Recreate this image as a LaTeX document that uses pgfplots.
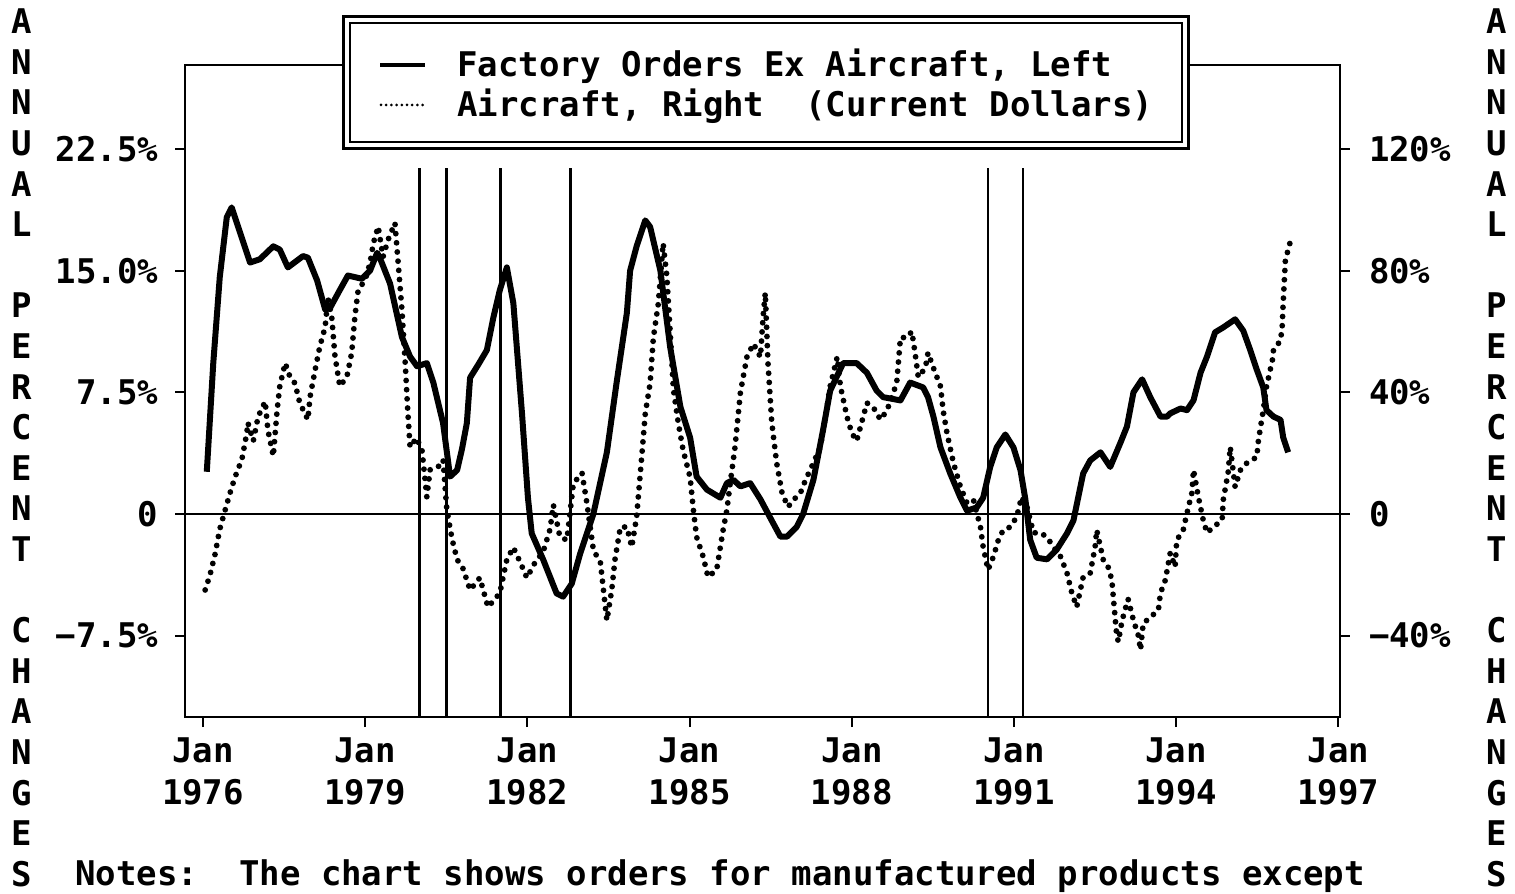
\documentclass[border=0pt]{standalone}
\usepackage{pgfplots}
\pgfplotsset{compat=1.18}
\usepackage{fontspec}
\setmainfont{DejaVu Sans Mono}
\newcommand\cf{\fontsize{17}{21}\selectfont\bfseries}

\pgfplotstableread{
x y
1976.07 2.6
1976.19 9.3
1976.31 14.6
1976.44 18.3
1976.53 18.9
1976.87 15.5
1977.05 15.7
1977.30 16.5
1977.42 16.3
1977.57 15.2
1977.85 15.9
1977.94 15.8
1978.11 14.4
1978.26 12.6
1978.35 12.7
1978.53 13.8
1978.68 14.7
1978.94 14.5
1979.09 15.0
1979.22 16.1
1979.27 15.8
1979.46 14.2
1979.68 10.9
1979.83 9.7
1979.96 9.1
1980.14 9.3
1980.26 8.1
1980.44 5.6
1980.57 2.3
1980.70 2.7
1980.79 4.0
1980.88 5.6
1980.94 8.4
1981.09 9.2
1981.25 10.1
1981.37 12.1
1981.49 13.8
1981.62 15.2
1981.74 13.0
1981.90 6.2
1982.01 1.0
1982.08 -1.2
1982.29 -2.8
1982.54 -4.9
1982.66 -5.1
1982.82 -4.3
1982.98 -2.4
1983.22 0.0
1983.47 3.8
1983.65 8.1
1983.84 12.4
1983.90 15.0
1984.02 16.5
1984.18 18.1
1984.27 17.7
1984.46 15.0
1984.64 10.3
1984.83 6.6
1985.01 4.7
1985.13 2.3
1985.32 1.5
1985.57 1.0
1985.69 1.9
1985.81 2.1
1985.94 1.7
1986.12 1.9
1986.31 0.9
1986.55 -0.6
1986.68 -1.4
1986.80 -1.4
1986.98 -0.8
1987.10 0.0
1987.29 2.1
1987.47 5.2
1987.60 7.6
1987.84 9.3
1988.09 9.3
1988.28 8.7
1988.46 7.6
1988.58 7.2
1988.90 7.0
1989.08 8.1
1989.32 7.8
1989.41 7.2
1989.51 6.0
1989.64 4.1
1989.82 2.5
1990.01 1.0
1990.13 0.2
1990.31 0.4
1990.43 1.0
1990.56 2.9
1990.68 4.1
1990.84 4.9
1990.99 4.1
1991.12 2.7
1991.21 0.9
1991.30 -1.6
1991.42 -2.7
1991.61 -2.8
1991.79 -2.2
1991.98 -1.2
1992.10 -0.4
1992.23 1.7
1992.28 2.5
1992.41 3.3
1992.60 3.8
1992.78 2.9
1992.97 4.4
1993.09 5.4
1993.21 7.5
1993.37 8.3
1993.52 7.2
1993.71 6.0
1993.83 6.0
1993.89 6.2
1994.08 6.5
1994.20 6.4
1994.32 7.0
1994.45 8.7
1994.57 9.7
1994.72 11.2
1994.87 11.5
1995.09 12.0
1995.24 11.3
1995.37 10.1
1995.49 8.9
1995.61 7.8
1995.67 6.4
1995.80 6.0
1995.93 5.8
1995.98 4.7
1996.07 3.8
}\factory

\pgfplotstableread{
x y
1976.04 -25
1976.13 -20
1976.22 -13.5
1976.31 -5
1976.41 1.3
1976.50 6.9
1976.59 12
1976.72 18
1976.81 26.6
1976.83 30
1976.93 24
1977.02 32
1977.15 37
1977.20 27.6
1977.30 19
1977.37 34
1977.42 42
1977.52 49.6
1977.61 45
1977.70 43
1977.79 36.5
1977.94 31
1977.98 38.5
1978.07 47
1978.16 55
1978.26 61.5
1978.31 71
1978.38 65
1978.44 52
1978.53 42
1978.66 45
1978.75 53
1978.81 65
1978.87 73.6
1979.00 77
1979.09 82.5
1979.15 89
1979.24 94.5
1979.33 84.5
1979.42 90
1979.55 95.7
1979.61 82.5
1979.68 67
1979.74 49.6
1979.79 33
1979.83 22
1979.95 25
1980.05 21
1980.14 5.6
1980.20 14.5
1980.35 15.5
1980.44 17.8
1980.51 1.3
1980.61 -8.5
1980.70 -15
1980.81 -18
1980.94 -25
1981.12 -21
1981.27 -30.6
1981.40 -28
1981.49 -26
1981.62 -15
1981.74 -11
1981.87 -16
1981.99 -21
1982.14 -16
1982.29 -12.5
1982.42 -5
1982.48 3
1982.60 -7.5
1982.73 -8.6
1982.85 10
1983.01 13.5
1983.10 3.6
1983.22 -11.8
1983.35 -16
1983.47 -35
1983.56 -25
1983.62 -15
1983.72 -4.3
1983.84 -4.3
1983.93 -10.9
1984.02 -1
1984.12 20
1984.18 33
1984.27 43
1984.33 58
1984.42 69
1984.51 89
1984.58 78
1984.64 60
1984.70 41
1984.79 30
1984.88 21
1985.01 12
1985.07 1.3
1985.13 -7.6
1985.25 -14
1985.34 -20.7
1985.50 -18.4
1985.62 -5.3
1985.69 1.3
1985.75 10
1985.84 22
1985.94 40
1986.06 51.6
1986.18 56
1986.31 51.6
1986.36 65
1986.40 72.7
1986.45 49.6
1986.52 30
1986.61 16.8
1986.71 6.9
1986.82 2.3
1986.92 4.6
1987.05 6.9
1987.14 11
1987.29 16.8
1987.42 22
1987.54 35
1987.60 42
1987.73 51.6
1987.79 42
1987.91 32
1988.00 26.6
1988.09 24
1988.16 28.6
1988.28 36.5
1988.40 35
1988.53 31
1988.65 34
1988.74 38.5
1988.83 43
1988.90 58
1989.02 58
1989.11 60
1989.17 53
1989.23 45
1989.36 48
1989.41 53
1989.51 48
1989.64 42
1989.69 34
1989.76 26.6
1989.88 16.8
1990.01 8.9
1990.13 3.6
1990.25 4.6
1990.38 -4.3
1990.43 -10.9
1990.52 -18.4
1990.62 -14
1990.71 -8.6
1990.80 -5.3
1990.93 -4.3
1991.05 -1
1991.14 5.6
1991.24 2.3
1991.36 -6.2
1991.49 -6.2
1991.61 -7.6
1991.73 -10.9
1991.86 -14
1991.98 -19.4
1992.07 -26
1992.16 -30.6
1992.28 -20.7
1992.41 -19.4
1992.50 -10.9
1992.53 -5.3
1992.65 -15
1992.74 -17.4
1992.81 -21.7
1992.84 -28
1992.90 -40
1992.93 -42
1993.00 -35
1993.11 -28
1993.21 -35
1993.30 -40
1993.34 -44.7
1993.39 -36
1993.52 -34
1993.67 -31.6
1993.71 -26
1993.80 -21.7
1993.89 -12.8
1993.98 -17.4
1994.01 -8.6
1994.13 -5.3
1994.20 0.3
1994.29 6.9
1994.32 14.5
1994.41 5.6
1994.50 -2
1994.57 -6.2
1994.69 -4.3
1994.85 -2
1994.87 4.6
1994.96 13.5
1995.00 22
1995.09 8.9
1995.19 14.5
1995.31 16.8
1995.49 18.7
1995.52 24
1995.56 28.6
1995.61 34
1995.67 41.8
1995.78 50.7
1995.80 54
1995.93 57
1995.96 61.5
1995.98 70
1996.02 83.5
1996.11 89.5
}\aircraft

\begin{document}
\begin{tikzpicture}
\path[use as bounding box] (-92.5pt,-88.5pt) rectangle (665pt,358.5pt);
\begin{axis}[
  scale only axis, width=577.5pt, height=326pt,
  xmin=1975.667, xmax=1997.03, ymin=-12.52, ymax=27.68,
  axis line style={line width=1.3pt},
  xtick={1976,1979,...,1997},
  xticklabels={Jan\\1976,Jan\\1979,Jan\\1982,Jan\\1985,Jan\\1988,Jan\\1991,Jan\\1994,Jan\\1997},
  minor x tick num=14,
  xtick pos=bottom, ytick pos=left,
  tick align=outside,
  major tick length=5pt, minor tick length=5pt,
  tick style={black, line width=1pt},
  ytick={-7.5,0,7.5,15,22.5},
  yticklabels={−7.5\%,0,7.5\%,15.0\%,22.5\%},
  ticklabel style={font=\cf},
  xticklabel style={align=center, yshift=-2pt},
  yticklabel style={xshift=-5pt},
  clip=false,
]
\addplot[line width=1pt] coordinates {(1975.667,0) (1997.03,0)};
\addplot[line width=1.3pt] coordinates {(1980.0,-12.52) (1980.0,21.3)};
\addplot[line width=1.3pt] coordinates {(1980.5,-12.52) (1980.5,21.3)};
\addplot[line width=1.3pt] coordinates {(1981.5,-12.52) (1981.5,21.3)};
\addplot[line width=1.3pt] coordinates {(1982.8,-12.52) (1982.8,21.3)};
\addplot[line width=1.3pt] coordinates {(1990.52,-12.52) (1990.52,21.3)};
\addplot[line width=1.3pt] coordinates {(1991.17,-12.52) (1991.17,21.3)};
\addplot[line width=3pt, line join=round] table[x=x,y=y] {\factory};
\end{axis}
\begin{axis}[
  scale only axis, width=577.5pt, height=326pt,
  xmin=1975.667, xmax=1997.03, ymin=-66.77, ymax=147.63,
  axis x line=none, axis y line*=right,
  axis line style={line width=1.3pt},
  tick align=outside, major tick length=5pt,
  tick style={black, line width=1pt},
  ytick={-40,0,40,80,120},
  yticklabels={−40\%,0,40\%,80\%,120\%},
  yticklabel style={font=\cf, anchor=west, xshift=6pt},
]
\addplot[line width=2.9pt, line cap=round, dash pattern=on 0pt off 4.6pt] table[x=x,y=y] {\aircraft};
\end{axis}
% legend box
\fill[white] (78.5pt,283.5pt) rectangle (502.5pt,351pt);
\draw[line width=1.4pt] (79.2pt,284.2pt) rectangle (501.8pt,350.3pt);
\draw[line width=0.9pt] (82.6pt,287.6pt) rectangle (498.4pt,346.9pt);
\draw[line width=1.6pt] (97.5pt,326pt) -- (120pt,326pt);
\draw[line width=1.5pt, line cap=round, dash pattern=on 0pt off 2.6pt] (98pt,306pt) -- (119.5pt,306pt);
\node[anchor=base west, inner sep=0, font=\cf] at (136pt,320pt) {Factory Orders Ex Aircraft, Left};
\node[anchor=base west, inner sep=0, font=\cf] at (136pt,300pt) {Aircraft, Right\ \ (Current Dollars)};
% notes
\node[anchor=base west, inner sep=0, font=\cf] at (-55pt,-84.3pt) {Notes:\ \ The chart shows orders for manufactured products except};
% vertical labels
\foreach \c [count=\i from 0] in {A,N,N,U,A,L,,P,E,R,C,E,N,T,,C,H,A,N,G,E,S} {
  \node[font=\cf, inner sep=0] at (-81.5pt,{(347.8-20.3*\i)*1pt}) {\c};
  \node[font=\cf, inner sep=0] at (656pt,{(347.8-20.3*\i)*1pt}) {\c};
}
\end{tikzpicture}
\end{document}
